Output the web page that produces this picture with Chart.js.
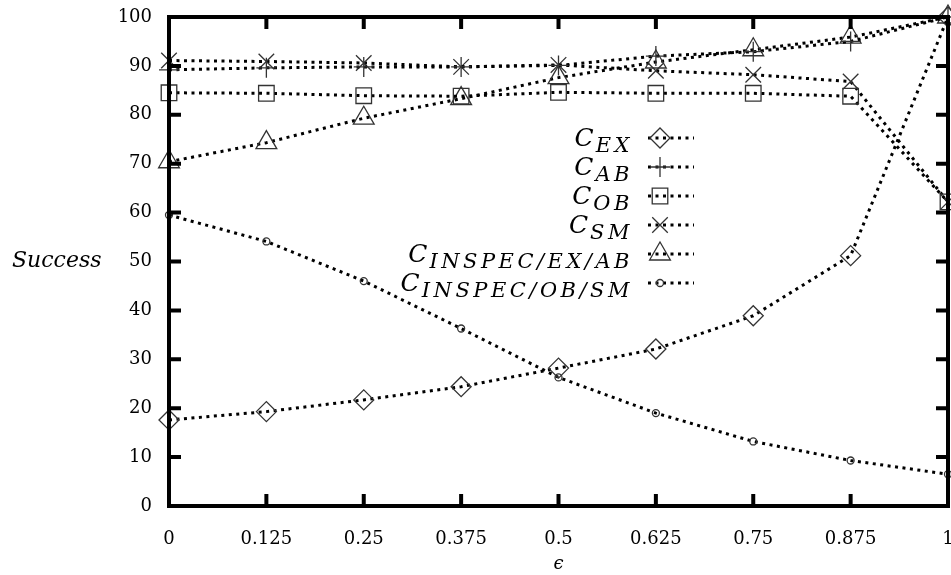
<!DOCTYPE html>
<html>
<head>
<meta charset="utf-8">
<script src="https://cdn.jsdelivr.net/npm/chart.js@4/dist/chart.umd.min.js"></script>
<style>
  html,body{margin:0;padding:0;background:#fff;}
  #c{display:block;}
</style>
</head>
<body>
<canvas id="c" width="951" height="575"></canvas>
<script>
// epsilon values (x) and tick labels
const eps = [0, 0.125, 0.25, 0.375, 0.5, 0.625, 0.75, 0.875, 1];
const xTickLabels = ["0", "0.125", "0.25", "0.375", "0.5", "0.625", "0.75", "0.875", "1"];
const yTicks = [0, 10, 20, 30, 40, 50, 60, 70, 80, 90, 100];

// success values
const cEX = [17.6, 19.3, 21.7, 24.4, 28.2, 32.1, 38.9, 51.2, 100];
const cAB = [89.2, 89.6, 89.8, 89.8, 90.1, 92.0, 92.9, 95.0, 100];
const cOB = [84.5, 84.4, 83.9, 83.8, 84.6, 84.4, 84.4, 83.8, 62.2];
const cSM = [91.1, 90.9, 90.6, 89.8, 90.2, 89.0, 88.2, 86.8, 62.2];
const cInspecExAb = [70.4, 74.3, 79.3, 83.3, 87.6, 90.8, 93.3, 95.9, 100];
const cInspecObSm = [59.5, 54.1, 46.0, 36.3, 26.3, 19.0, 13.2, 9.3, 6.5];

// legend names: [main, subscript]
const names = [["C","EX"],["C","AB"],["C","OB"],["C","SM"],["C","INSPEC/EX/AB"],["C","INSPEC/OB/SM"]];

const SERIF = "'DejaVu Serif', 'Liberation Serif', serif";
const pts = (arr)=> arr.map((v,i)=>({x:eps[i], y:v}));

function series(data, style, radius){
  return {
    data: pts(data),
    borderColor:"#000",
    borderWidth:3,
    borderDash:[3,4.5],
    borderCapStyle:"butt",
    pointStyle:style,
    pointRadius:radius,
    pointHoverRadius:radius,
    pointBorderColor:"#333",
    pointBorderWidth:1.3,
    pointBackgroundColor:"rgba(0,0,0,0)",
    fill:false,
    tension:0,
    clip:false
  };
}

const datasets = [
  series(cEX, "rectRot", 10),
  series(cAB, "cross", 10),
  series(cOB, "rect", 11),
  series(cSM, "crossRot", 11),
  series(cInspecExAb, "triangle", 12),
  series(cInspecObSm, "circle", 3.5)
];

// frame with inward ticks, gnuplot style
const frame = {
  id:"frame",
  afterDatasetsDraw(chart){
    const {ctx, chartArea:a, scales:{x, y}} = chart;
    ctx.save();
    ctx.strokeStyle="#000";
    ctx.lineWidth=4;
    ctx.lineCap="butt";
    ctx.strokeRect(a.left, a.top, a.right-a.left, a.bottom-a.top);
    ctx.beginPath();
    eps.forEach(v=>{
      const px = x.getPixelForValue(v);
      ctx.moveTo(px, a.bottom); ctx.lineTo(px, a.bottom-12);
      ctx.moveTo(px, a.top); ctx.lineTo(px, a.top+12);
    });
    yTicks.forEach(v=>{
      const py = y.getPixelForValue(v);
      ctx.moveTo(a.left, py); ctx.lineTo(a.left+12, py);
      ctx.moveTo(a.right, py); ctx.lineTo(a.right-12, py);
    });
    ctx.stroke();

    // y axis label, horizontal
    ctx.fillStyle="#000";
    ctx.font = "italic 22px " + SERIF;
    ctx.textBaseline="middle";
    ctx.textAlign="left";
    ctx.fillText("Success", 12, y.getPixelForValue(50));
    ctx.restore();
  }
};

// in-plot legend with subscripted names
const keyBox = {
  id:"keyBox",
  afterDraw(chart){
    const {ctx} = chart;
    const right = 630, mx = 660, top = 138, step = 29;
    ctx.save();
    datasets.forEach((ds,i)=>{
      const yy = top + i*step;
      // sample line
      ctx.strokeStyle="#000"; ctx.lineWidth=3; ctx.setLineDash([3,4.5]);
      ctx.beginPath(); ctx.moveTo(648, yy); ctx.lineTo(694, yy); ctx.stroke();
      ctx.setLineDash([]);
      // marker
      ctx.strokeStyle="#333"; ctx.lineWidth=1.3; ctx.fillStyle="rgba(0,0,0,0)";
      if (Chart.helpers && Chart.helpers.drawPoint){
        Chart.helpers.drawPoint(ctx, {pointStyle:ds.pointStyle, radius:ds.pointRadius, rotation:0, borderWidth:1.3}, mx, yy);
      }
      // text: main letter + subscript, right aligned
      const [main, sub] = names[i];
      ctx.fillStyle="#000";
      ctx.textBaseline="alphabetic";
      ctx.textAlign="right";
      ctx.font = "italic 21px " + SERIF;
      if ("letterSpacing" in ctx) ctx.letterSpacing = "3.5px";
      const sw = ctx.measureText(sub).width;
      ctx.fillText(sub, right + 3, yy+14);
      if ("letterSpacing" in ctx) ctx.letterSpacing = "0px";
      ctx.font = "italic 25px " + SERIF;
      ctx.fillText(main, right - sw + 1, yy+8);
    });
    ctx.restore();
  }
};

new Chart(document.getElementById("c"), {
  type:"line",
  data:{ datasets },
  options:{
    responsive:false,
    animation:false,
    devicePixelRatio:1,
    layout:{ autoPadding:false, padding:{ top:17, right:3, left:0, bottom:0 } },
    plugins:{ legend:{display:false}, tooltip:{enabled:false} },
    scales:{
      x:{
        type:"linear", min:0, max:1,
        afterBuildTicks:(s)=>{ s.ticks = eps.map(v=>({value:v})); },
        afterFit:(s)=>{ s.height = 69; s.paddingLeft = 0; s.paddingRight = 0; },
        grid:{display:false, drawTicks:false},
        border:{display:false},
        ticks:{
          color:"#000", padding:23, maxRotation:0, autoSkip:false,
          font:{family:SERIF, size:18},
          callback:(v,i)=> xTickLabels[i]
        },
        title:{ display:true, text:"\u03f5", color:"#000",
          font:{family:SERIF, size:18, style:"italic"}, padding:{top:0,bottom:0} }
      },
      y:{
        min:0, max:100,
        afterBuildTicks:(s)=>{ s.ticks = yTicks.map(v=>({value:v})); },
        afterFit:(s)=>{ s.width = 169; s.paddingTop = 0; s.paddingBottom = 0; },
        grid:{display:false, drawTicks:false},
        border:{display:false},
        ticks:{ color:"#000", padding:17, font:{family:SERIF, size:18} }
      }
    }
  },
  plugins:[frame, keyBox]
});
</script>
</body>
</html>
